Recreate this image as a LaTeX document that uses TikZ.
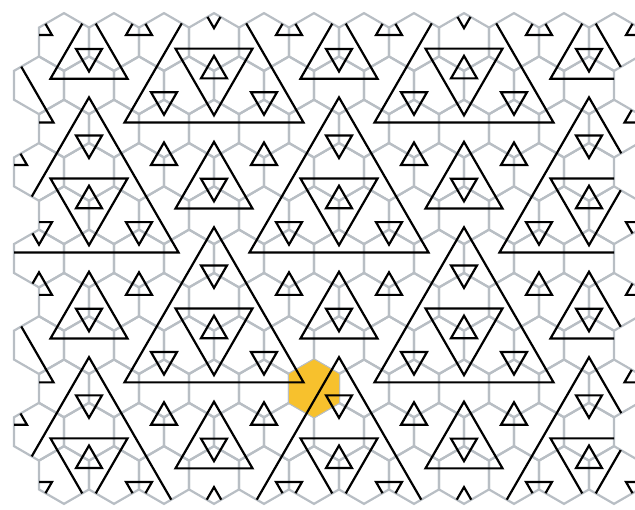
\documentclass[tikz,border=0pt]{standalone}
\usepackage{tikz}
\definecolor{hexgray}{RGB}{184,190,196}
\definecolor{tileyellow}{RGB}{247,193,45}

% one stripe triangle: centre x, centre y, circumradius, angle of first corner
\newcommand{\tri}[4]{%
  \draw[stripe, shift={({#1},{#2})}] (#4:#3) -- (#4+120:#3) -- (#4+240:#3) -- cycle;}

\begin{document}
\begin{tikzpicture}[
    hexline/.style={draw=hexgray, line width=1.25pt},
    stripe/.style={black, line width=1.25pt},
    yellowtile/.style={fill=tileyellow}]

\useasboundingbox (0,0) rectangle (12.7,10.18);
\clip (0,0) rectangle (12.7,10.18);

\def\rr{0.57735}
\def\hh{0.86603}

% Hexagon grid
\foreach \j in {0,...,10}{
  \foreach \i in {0,...,11}{
    \draw[hexline] ({1.28+\i-0.5*mod(\j,2)},{9.34-\hh*\j}) ++(30:\rr)
      -- ++(150:\rr) -- ++(210:\rr) -- ++(270:\rr) -- ++(330:\rr) -- ++(30:\rr) -- cycle;
  }
}

% Marked hexagon
\fill[yellowtile] (6.28,2.412) ++(30:\rr)
  -- ++(150:\rr) -- ++(210:\rr) -- ++(270:\rr) -- ++(330:\rr) -- ++(30:\rr) -- cycle;

% Black stripes, cut off at the edge of the tiled region
\begin{scope}
\clip \foreach \j in {0,...,10}{\foreach \i in {0,...,11}{
  ({1.28+\i-0.5*mod(\j,2)},{9.34-\hh*\j}) ++(30:\rr)
  -- ++(150:\rr) -- ++(210:\rr) -- ++(270:\rr) -- ++(330:\rr) -- ++(30:\rr) -- cycle}};
\foreach \n in {-1,...,4}{
  \foreach \m in {-1,...,2}{
    \pgfmathsetmacro{\px}{4.28+5*\m-2.5*mod(\n+2,2)}
    \pgfmathsetmacro{\py}{9.34-\rr-3*\hh*\n}
    \pgfmathsetmacro{\qy}{\py-4*\rr}
    \pgfmathtruncatemacro{\inview}{\px>0}
    % nested stack: level 1 up, level 2 down, level 3 up
    \tri{\px}{\py}{0.300}{90}
    \tri{\px}{\py}{0.889}{-90}
    \tri{\px}{\py}{2.067}{90}
    % small triangles at the three corners
    \tri{\px}{\py+2*\rr}{0.300}{-90}
    \tri{\px-1}{\py-\rr}{0.300}{-90}
    \ifnum\inview=1 \tri{\px+1}{\py-\rr}{0.300}{-90}\fi
    % level 2 triangle below
    \tri{\px}{\qy}{0.300}{-90}
    \tri{\px}{\qy}{0.889}{90}
    \tri{\px-1}{\qy+\rr}{0.300}{90}
    \tri{\px+1}{\qy+\rr}{0.300}{90}
  }
}
\end{scope}

\end{tikzpicture}
\end{document}
